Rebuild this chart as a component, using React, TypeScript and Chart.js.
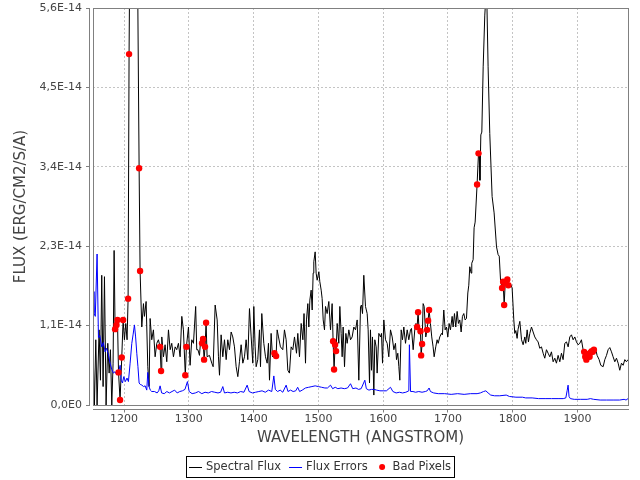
import React, { useEffect, useRef } from "react";
import { Chart, registerables } from "chart.js";

Chart.register(...registerables);

// ---- data (flux in units of 1e-14 erg/cm2/s/A) ----
const FLUX_UNIT = 1e-14;
const X_MIN = 1152;
const X_MAX = 1978;
const X_TICKS = [1200, 1300, 1400, 1500, 1600, 1700, 1800, 1900];
const Y_TICKS = [0, 1.12, 2.24, 3.36, 4.48, 5.6];
const Y_TICK_LABELS = ["0,0E0", "1,1E-14", "2,3E-14", "3,4E-14", "4,5E-14", "5,6E-14"];
const SERIES_LABELS = ["Spectral Flux", "Flux Errors", "Bad Pixels"];
const X_TITLE = "WAVELENGTH (ANGSTROM)";
const Y_TITLE = "FLUX (ERG/CM2/S/A)";

// [wavelength, flux]
const FLUX: [number, number][] = [
  [1152, 0.82], [1154.2, 0.0], [1156.3, 0.92], [1158.3, 0.0], [1161.4, 1.06], [1163.5, 0.35],
  [1165.5, 1.83], [1167.6, 0.26], [1169.7, 1.81], [1172.2, 0.0], [1174.8, 0.87], [1176.9, 0.45],
  [1178.9, 0.78], [1181.0, 0.0], [1183.0, 0.59], [1184.6, 2.18], [1186.1, 1.07], [1188.3, 1.13],
  [1189.8, 1.2], [1191.4, 0.46], [1193.8, 0.07], [1196.4, 0.67], [1198.5, 1.2], [1200.5, 0.92],
  [1202.6, 1.15], [1204.6, 0.92], [1206.2, 1.5], [1207.7, 4.95], [1209.5, 7.2], [1212, 9.5],
  [1215, 10.5], [1218, 9.0], [1220.5, 6.5], [1223.2, 3.34], [1224.7, 1.89], [1227.3, 1.1],
  [1229.9, 1.43], [1231.4, 1.25], [1234.0, 1.46], [1236.6, 0.54], [1238.6, 0.26], [1240.2, 1.22],
  [1242.7, 0.92], [1245.3, 1.06], [1247.9, 0.68], [1250.5, 0.87], [1253.0, 0.92], [1255.6, 0.82],
  [1257.1, 0.48], [1258.2, 0.96], [1260.8, 0.68], [1263.3, 0.85], [1265.9, 0.61], [1268.5, 1.06],
  [1271.1, 0.78], [1273.6, 0.87], [1276.2, 0.68], [1278.8, 0.82], [1281.3, 0.78], [1283.9, 0.87],
  [1286.5, 0.68], [1289.1, 1.25], [1291.6, 1.06], [1294.5, 0.42], [1296.2, 0.82], [1299.4, 1.1],
  [1301.9, 0.56], [1304.5, 0.92], [1307.1, 0.87], [1310.5, 1.39], [1312.2, 0.78], [1314.0, 0.78],
  [1316.4, 0.7], [1318.5, 0.95], [1320.4, 0.87], [1321.9, 0.93], [1323.5, 0.64], [1325.0, 0.82],
  [1326.6, 1.16], [1328.2, 0.68], [1331.8, 0.7], [1335.4, 0.59], [1337.5, 0.54], [1340.6, 1.41],
  [1343.7, 1.2], [1345.7, 0.68], [1347.3, 0.42], [1349.8, 0.99], [1352.4, 0.68], [1355.0, 0.92],
  [1357.6, 0.64], [1360.1, 0.92], [1362.7, 0.78], [1365.3, 1.03], [1367.8, 0.96], [1370.4, 0.82],
  [1373.0, 0.54], [1375.6, 0.4], [1378.1, 0.61], [1380.7, 0.85], [1383.3, 0.59], [1385.9, 0.68],
  [1388.4, 0.92], [1391.0, 0.64], [1393.6, 1.36], [1396.2, 0.96], [1398.7, 0.59], [1400.3, 1.39],
  [1402.3, 0.82], [1403.9, 0.54], [1406.4, 0.64], [1409.0, 1.06], [1410.6, 0.54], [1412.6, 1.29],
  [1415.7, 0.87], [1418.3, 0.68], [1420.9, 0.59], [1422.9, 0.87], [1424.5, 0.35], [1427.0, 1.01],
  [1429.1, 0.68], [1432.2, 0.73], [1434.7, 0.69], [1436.3, 1.06], [1438.4, 0.96], [1441.4, 0.82],
  [1445.0, 0.78], [1447.6, 1.06], [1450.2, 0.92], [1452.8, 0.49], [1455.3, 0.45], [1457.9, 0.82],
  [1460.5, 0.78], [1463.1, 0.96], [1466.2, 0.73], [1468.2, 1.01], [1470.8, 0.68], [1473.4, 1.15],
  [1476.0, 0.92], [1477.8, 1.29], [1480.1, 0.59], [1481.6, 1.2], [1483.7, 1.43], [1485.2, 1.1],
  [1486.8, 1.48], [1488.8, 1.62], [1490.4, 1.34], [1491.9, 1.86], [1492.9, 2.02], [1495.0, 2.16],
  [1496.5, 1.86], [1498.1, 1.76], [1500.7, 1.88], [1502.2, 1.74], [1504.3, 1.62], [1505.8, 1.5],
  [1507.4, 1.2], [1509.4, 1.06], [1511.0, 1.39], [1513.5, 1.29], [1516.1, 1.46], [1518.7, 1.06],
  [1521.2, 1.43], [1522.7, 0.9], [1524.2, 0.5], [1525.8, 0.85], [1527.3, 0.76], [1529.0, 1.15],
  [1531.5, 0.87], [1533.1, 1.39], [1535.1, 1.01], [1536.7, 0.68], [1538.2, 1.1], [1540.3, 0.54],
  [1542.4, 1.01], [1544.4, 0.87], [1547.0, 1.06], [1549.6, 0.92], [1552.1, 0.96], [1554.7, 1.1],
  [1557.3, 1.06], [1559.9, 1.2], [1562.4, 0.35], [1565.0, 1.39], [1566.5, 1.41], [1568.1, 1.29],
  [1570.1, 1.83], [1572.7, 1.39], [1575.3, 1.29], [1576.8, 1.06], [1578.9, 0.31], [1580.4, 1.06],
  [1582.0, 0.49], [1583.5, 0.96], [1585.6, 0.14], [1587.1, 0.92], [1589.2, 0.82], [1590.7, 0.45],
  [1593.3, 1.01], [1595.9, 0.96], [1597.4, 1.01], [1599.0, 0.59], [1601.0, 1.2], [1603.6, 0.92],
  [1606.2, 0.87], [1608.7, 0.68], [1611.3, 1.06], [1613.9, 0.96], [1616.5, 0.78], [1619.0, 0.87],
  [1620.6, 0.64], [1622.6, 0.73], [1624.2, 0.54], [1625.7, 0.35], [1627.8, 1.06], [1629.8, 0.92],
  [1631.9, 1.1], [1634.5, 0.87], [1637.1, 1.06], [1639.6, 0.92], [1642.2, 1.06], [1643.7, 1.08],
  [1646.3, 0.78], [1648.8, 1.06], [1650.6, 1.15], [1652.4, 1.1], [1653.9, 1.31], [1655.8, 1.0],
  [1657.6, 1.04], [1658.6, 0.7], [1660.1, 0.86], [1661.7, 1.43], [1663.3, 1.39], [1665.8, 0.96],
  [1667.8, 1.06], [1669.4, 1.19], [1670.9, 1.34], [1673.0, 1.15], [1675.0, 0.96], [1677.1, 0.82],
  [1678.7, 0.68], [1681.2, 0.82], [1683.3, 0.92], [1684.9, 0.87], [1687.4, 0.96], [1690.0, 1.01],
  [1691.5, 0.99], [1693.6, 1.34], [1695.7, 1.06], [1697.7, 1.1], [1699.8, 0.96], [1701.8, 1.15],
  [1703.9, 1.06], [1706.5, 1.25], [1708.0, 1.1], [1710.1, 1.29], [1712.1, 1.1], [1714.2, 1.32],
  [1716.2, 1.15], [1718.3, 1.2], [1720.4, 1.03], [1722.4, 1.25], [1724.5, 1.29], [1726.5, 1.2],
  [1728.6, 1.22], [1730.7, 1.58], [1732.2, 1.69], [1733.7, 1.95], [1735.8, 1.86], [1736.8, 2.0],
  [1738.9, 2.05], [1740.4, 2.5], [1742.0, 2.58], [1745.0, 3.11], [1747.2, 3.55], [1748.3, 3.55],
  [1749.4, 3.17], [1750.8, 3.81], [1752.3, 3.85], [1754.4, 4.77], [1756.9, 5.5], [1758.5, 5.75],
  [1760.3, 5.6], [1762.0, 4.77], [1764.6, 3.83], [1768.2, 2.94], [1771.3, 2.71], [1775.0, 2.23],
  [1777.5, 2.12], [1779.2, 2.1], [1781.2, 1.76], [1783.6, 1.65], [1785.2, 1.74], [1786.8, 1.41],
  [1788.4, 1.72], [1790.0, 1.74], [1791.7, 1.77], [1793.3, 1.69], [1795.5, 1.67], [1797.1, 1.7],
  [1799.1, 1.65], [1801.7, 1.2], [1803.2, 1.01], [1804.8, 1.05], [1806.8, 0.94], [1808.3, 1.07],
  [1811.0, 1.18], [1813.6, 0.92], [1816.1, 0.85], [1818.7, 0.96], [1820.2, 0.87], [1822.3, 1.06],
  [1824.3, 0.89], [1826.4, 1.01], [1829.0, 1.1], [1831.5, 1.03], [1834.1, 0.96], [1836.7, 0.92],
  [1839.2, 0.89], [1841.8, 0.8], [1844.4, 0.82], [1847.0, 0.73], [1849.5, 0.66], [1852.1, 0.78],
  [1854.7, 0.73], [1857.3, 0.68], [1859.8, 0.75], [1862.4, 0.61], [1865.0, 0.66], [1867.5, 0.59],
  [1870.1, 0.7], [1872.7, 0.61], [1875.3, 0.73], [1877.8, 0.64], [1880.4, 0.87], [1883.0, 0.89],
  [1885.6, 0.82], [1888.1, 0.96], [1890.7, 0.99], [1893.3, 0.92], [1895.9, 0.96], [1898.4, 0.89],
  [1901.0, 0.85], [1903.6, 0.87], [1906.1, 0.92], [1908.7, 0.78], [1910.3, 0.75], [1912.0, 0.68],
  [1913.7, 0.64], [1915.3, 0.7], [1917.0, 0.72], [1918.7, 0.68], [1920.4, 0.74], [1922.0, 0.76],
  [1923.7, 0.75], [1925.4, 0.78], [1928.3, 0.78], [1930.3, 0.7], [1933.4, 0.64], [1936.0, 0.56],
  [1939.6, 0.54], [1942.2, 0.64], [1944.8, 0.7], [1947.3, 0.78], [1949.9, 0.81], [1952.5, 0.75],
  [1955.0, 0.68], [1957.6, 0.61], [1960.2, 0.66], [1962.8, 0.59], [1965.3, 0.49], [1967.9, 0.59],
  [1970.5, 0.56], [1973.1, 0.64], [1975.6, 0.61], [1978, 0.64],
];

// [wavelength, error]
const ERRORS: [number, number][] = [
  [1152, 1.6], [1153.5, 1.3], [1155.5, 1.25], [1158.3, 2.13], [1160.4, 0.95], [1162.5, 0.98],
  [1165.5, 0.82], [1168, 0.88], [1170.7, 0.75], [1173, 0.8], [1175.5, 0.72], [1178.4, 0.59],
  [1181, 0.5], [1183.6, 0.45], [1186, 0.47], [1188.5, 0.43], [1191, 0.45], [1193.9, 0.56],
  [1195.5, 0.35], [1197.5, 0.31], [1199.5, 0.4], [1202, 0.33], [1204.5, 0.38], [1206.7, 0.33],
  [1209.3, 0.59], [1211.9, 0.87], [1214, 1.0], [1216.0, 1.13], [1217.8, 0.96], [1219.6, 0.73],
  [1221.4, 0.54], [1223.2, 0.31], [1225, 0.29], [1227.5, 0.28], [1230, 0.26], [1232.5, 0.27],
  [1235.0, 0.21], [1236.6, 0.46], [1238.5, 0.26], [1240.5, 0.21], [1242.7, 0.19], [1247, 0.19],
  [1251, 0.17], [1253.5, 0.2], [1255.6, 0.27], [1258, 0.17], [1262, 0.16], [1266, 0.19],
  [1270, 0.17], [1274, 0.19], [1278, 0.21], [1282, 0.17], [1286, 0.19], [1290, 0.2],
  [1294, 0.22], [1297.8, 0.33], [1300.5, 0.19], [1305, 0.16], [1310, 0.17], [1315, 0.19],
  [1320, 0.16], [1325, 0.18], [1330, 0.17], [1335, 0.19], [1340, 0.18], [1345, 0.17],
  [1349, 0.18], [1352.4, 0.26], [1355, 0.17], [1360, 0.18], [1365, 0.17], [1370, 0.18],
  [1375, 0.17], [1380, 0.19], [1385, 0.18], [1390, 0.28], [1393, 0.19], [1398, 0.17],
  [1403, 0.18], [1408, 0.19], [1413, 0.2], [1418, 0.18], [1423, 0.21], [1428, 0.19],
  [1431.2, 0.41], [1433.5, 0.22], [1437, 0.19], [1441, 0.21], [1445, 0.18], [1450.2, 0.28],
  [1453, 0.19], [1457, 0.21], [1461, 0.19], [1465, 0.2], [1468, 0.25], [1471, 0.19],
  [1475, 0.21], [1480, 0.24], [1485, 0.25], [1490, 0.26], [1495, 0.27], [1500, 0.26],
  [1505, 0.25], [1510, 0.24], [1514, 0.24], [1518.7, 0.28], [1522, 0.23], [1526, 0.25],
  [1530, 0.23], [1535, 0.24], [1540, 0.23], [1545, 0.24], [1549.6, 0.3], [1553, 0.23],
  [1558, 0.24], [1562, 0.22], [1566, 0.23], [1571.7, 0.35], [1574, 0.23], [1578, 0.21],
  [1582, 0.22], [1586, 0.22], [1590, 0.21], [1595, 0.2], [1600, 0.2], [1605, 0.2],
  [1611.3, 0.25], [1615, 0.19], [1620, 0.17], [1625, 0.18], [1630, 0.17], [1635, 0.18],
  [1639.6, 0.2], [1640.5, 0.85], [1642.3, 0.19], [1646, 0.19], [1650, 0.18], [1655, 0.19],
  [1660, 0.18], [1665, 0.19], [1668, 0.2], [1670.9, 0.24], [1673, 0.19], [1678, 0.17],
  [1685, 0.16], [1695, 0.16], [1705, 0.15], [1715, 0.16], [1725, 0.15], [1735, 0.16],
  [1745, 0.16], [1750, 0.17], [1755, 0.19], [1758.5, 0.2], [1762, 0.17], [1766, 0.14],
  [1772, 0.13], [1780, 0.13], [1790, 0.14], [1795, 0.12], [1805, 0.11], [1815, 0.11],
  [1820, 0.1], [1830, 0.1], [1840, 0.09], [1850, 0.09], [1860, 0.09], [1870, 0.09],
  [1878, 0.09], [1882, 0.1], [1884, 0.2], [1885.5, 0.28], [1887, 0.12], [1889, 0.09],
  [1895, 0.08], [1905, 0.08], [1915, 0.08], [1920, 0.09], [1925, 0.08], [1935, 0.07],
  [1945, 0.07], [1955, 0.07], [1965, 0.07], [1972, 0.08], [1975, 0.07], [1978, 0.09],
];

const BAD_WL = [
  1186.1, 1188.3, 1189.8, 1191.4, 1193.8, 1196.4, 1198.5, 1206.2, 1207.7, 1223.2, 1224.7,
  1255.6, 1257.1, 1294.5, 1296.2, 1320.4, 1321.9, 1323.5, 1325.0, 1326.6, 1432.2, 1434.7,
  1522.7, 1524.2, 1525.8, 1527.3, 1652.4, 1653.9, 1657.6, 1658.6, 1660.1, 1667.8, 1669.4,
  1670.9, 1745.0, 1747.2, 1783.6, 1785.2, 1786.8, 1788.4, 1791.7, 1793.3, 1910.3, 1912.0,
  1913.7, 1915.3, 1917.0, 1918.7, 1920.4, 1922.0, 1923.7, 1925.4,
];
const BAD_FLUX = [
  1.07, 1.13, 1.2, 0.46, 0.07, 0.67, 1.2, 1.5, 4.95, 3.34, 1.89,
  0.82, 0.48, 0.42, 0.82, 0.87, 0.93, 0.64, 0.82, 1.16, 0.73, 0.69,
  0.9, 0.5, 0.85, 0.76, 1.1, 1.31, 1.04, 0.7, 0.86, 1.06, 1.19,
  1.34, 3.11, 3.55, 1.65, 1.74, 1.41, 1.72, 1.77, 1.69, 0.75, 0.68,
  0.64, 0.7, 0.72, 0.68, 0.74, 0.76, 0.75, 0.78,
];

const FONT = '"DejaVu Sans", sans-serif';

const decorPlugin = {
  id: "decor",
  afterDraw(chart: any) {
    const { ctx, chartArea: a } = chart;
    const xs = chart.scales.x;
    const ys = chart.scales.y;
    ctx.save();
    ctx.setLineDash([]);
    ctx.lineWidth = 1;
    ctx.strokeStyle = "#808080";
    // plot outline
    ctx.strokeRect(a.left + 0.5, a.top + 0.5, a.right - a.left, a.bottom - a.top);
    // offset y axis line + ticks
    const yl = a.left - 4 + 0.5;
    ctx.beginPath();
    ctx.moveTo(yl, a.top);
    ctx.lineTo(yl, a.bottom + 1);
    ys.ticks.forEach((t: any) => {
      const py = Math.round(ys.getPixelForValue(t.value) - 0.5) + 0.5;
      ctx.moveTo(yl - 3.5, py);
      ctx.lineTo(yl + 0.5, py);
    });
    ctx.stroke();
    // offset x axis line + ticks
    const xl = a.bottom + 4 + 0.5;
    ctx.beginPath();
    ctx.moveTo(a.left, xl);
    ctx.lineTo(a.right + 1, xl);
    xs.ticks.forEach((t: any) => {
      const px = Math.round(xs.getPixelForValue(t.value) - 0.5) + 0.5;
      ctx.moveTo(px, xl - 0.5);
      ctx.lineTo(px, xl + 3);
    });
    ctx.stroke();

    // legend
    const items = chart.data.datasets.map((ds: any) => ({
      text: ds.label,
      color: ds.borderColor,
      dot: ds.showLine === false,
    }));
    ctx.font = "11.5px " + FONT;
    const sw = 13, gap = 4, between = 8, pad = 3;
    const widths = items.map((it: any) => sw + gap + ctx.measureText(it.text).width);
    const total = pad * 2 + widths.reduce((s: number, w: number) => s + w, 0) + between * (items.length - 1);
    const bx = Math.round((chart.width - total) / 2);
    const by = 456;
    const bh = 21;
    ctx.strokeStyle = "#000";
    ctx.strokeRect(bx + 0.5, by + 0.5, Math.round(total), bh);
    const cy = by + bh / 2 + 0.5;
    let x = bx + pad;
    items.forEach((it: any, i: number) => {
      if (it.dot) {
        ctx.fillStyle = it.color;
        ctx.beginPath();
        ctx.arc(x + sw / 2, cy, 3, 0, Math.PI * 2);
        ctx.fill();
      } else {
        ctx.strokeStyle = it.color;
        ctx.beginPath();
        ctx.moveTo(x, Math.floor(cy) + 0.5);
        ctx.lineTo(x + sw, Math.floor(cy) + 0.5);
        ctx.stroke();
      }
      ctx.fillStyle = "#333";
      ctx.textBaseline = "middle";
      ctx.textAlign = "left";
      ctx.fillText(it.text, x + sw + gap, cy);
      x += widths[i] + between;
    });
    ctx.restore();
  },
};

export default function App() {
  const canvasRef = useRef<HTMLCanvasElement | null>(null);

  useEffect(() => {
    const canvas = canvasRef.current;
    if (!canvas) return;
    const chart = new Chart(canvas, {
      type: "line",
      data: {
        datasets: [
          {
            label: SERIES_LABELS[0],
            data: FLUX.map(([x, y]) => ({ x, y: y * FLUX_UNIT })),
            borderColor: "#000000",
            backgroundColor: "#000000",
            borderWidth: 1,
            pointRadius: 0,
            tension: 0,
            order: 2,
          },
          {
            label: SERIES_LABELS[1],
            data: ERRORS.map(([x, y]) => ({ x, y: y * FLUX_UNIT })),
            borderColor: "#0000ff",
            backgroundColor: "#0000ff",
            borderWidth: 1,
            pointRadius: 0,
            tension: 0,
            order: 1,
          },
          {
            label: SERIES_LABELS[2],
            data: BAD_WL.map((x, i) => ({ x, y: BAD_FLUX[i] * FLUX_UNIT })),
            showLine: false,
            borderColor: "#ff0000",
            backgroundColor: "#ff0000",
            pointBackgroundColor: "#ff0000",
            pointBorderWidth: 0,
            pointRadius: 3.2,
            order: 0,
          },
        ],
      },
      options: {
        animation: false,
        responsive: true,
        maintainAspectRatio: false,
        layout: { padding: { left: 0, right: 12, top: 8, bottom: 0 } },
        plugins: {
          legend: { display: false },
          tooltip: { enabled: false },
        },
        scales: {
          x: {
            type: "linear",
            min: X_MIN,
            max: X_MAX,
            afterBuildTicks: (scale: any) => {
              scale.ticks = X_TICKS.map((v) => ({ value: v }));
            },
            afterFit: (scale: any) => {
              scale.height = 75;
              scale.paddingLeft = 0;
              scale.paddingRight = 0;
            },
            ticks: {
              callback: (v: any) => String(v),
              font: { family: FONT, size: 11 },
              color: "#444",
              padding: 8,
              maxRotation: 0,
            },
            grid: { color: "#c4c4c4", lineWidth: 1, drawTicks: false },
            border: { display: false, dash: [2, 2] },
            title: {
              display: true,
              text: X_TITLE,
              font: { family: FONT, size: 15 },
              color: "#444",
              padding: { top: 0, bottom: 33 },
            },
          },
          y: {
            type: "linear",
            min: Y_TICKS[0] * FLUX_UNIT,
            max: Y_TICKS[Y_TICKS.length - 1] * FLUX_UNIT,
            afterBuildTicks: (scale: any) => {
              scale.ticks = Y_TICKS.map((v) => ({ value: v * FLUX_UNIT }));
            },
            afterFit: (scale: any) => {
              scale.width = 93;
              scale.paddingTop = 0;
              scale.paddingBottom = 0;
            },
            ticks: {
              callback: (_v: any, i: number) => Y_TICK_LABELS[i],
              font: { family: FONT, size: 11 },
              color: "#444",
              padding: 11,
            },
            grid: { color: "#c4c4c4", lineWidth: 1, drawTicks: false },
            border: { display: false, dash: [2, 2] },
            title: {
              display: true,
              text: Y_TITLE,
              font: { family: FONT, size: 15 },
              color: "#444",
              padding: { top: 12, bottom: 0 },
            },
          },
        },
      },
      plugins: [decorPlugin],
    });
    return () => chart.destroy();
  }, []);

  return (
    <div style={{ position: "fixed", left: 0, top: 0, width: 640, height: 480, background: "#fff" }}>
      <canvas ref={canvasRef} />
    </div>
  );
}
